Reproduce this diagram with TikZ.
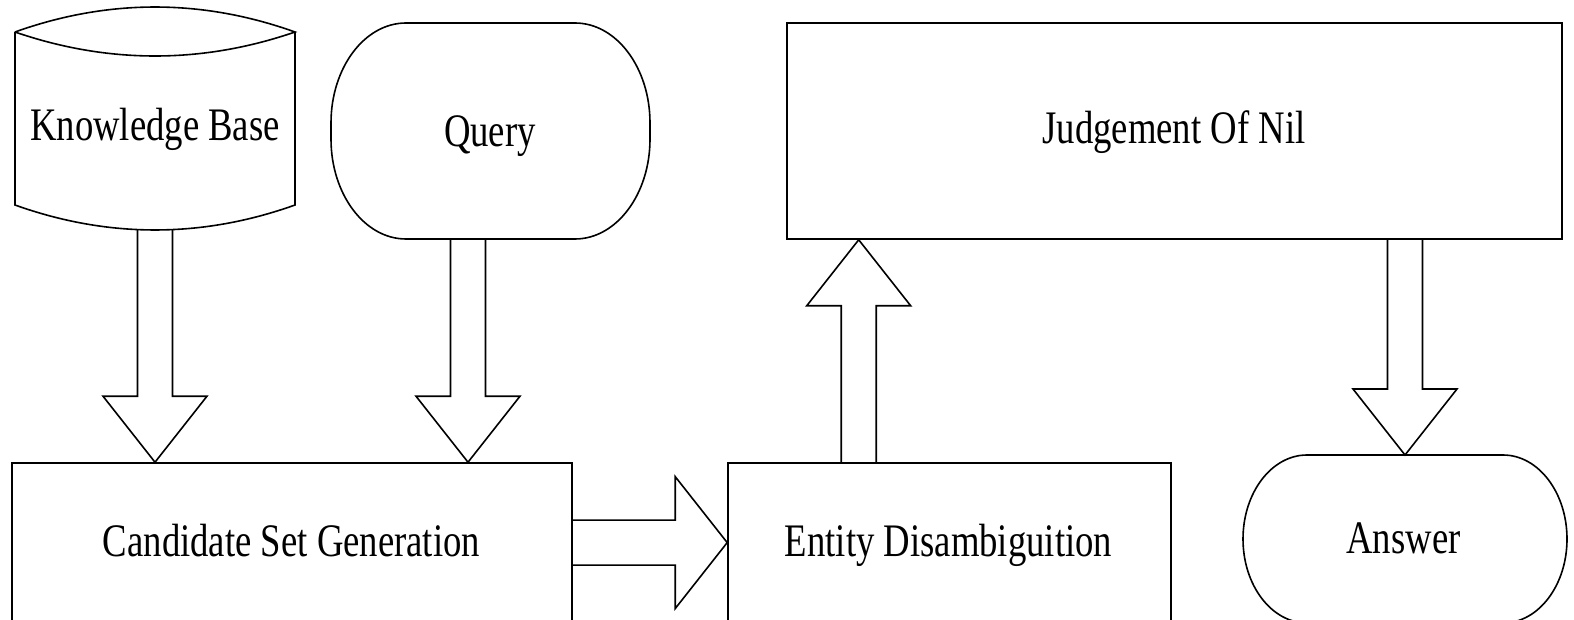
\documentclass[tikz,border=0pt]{standalone}
\usepackage{fontspec}
\setmainfont{Liberation Serif}
\usepackage{graphicx}
\usetikzlibrary{calc}
\tikzset{
  shapeline/.style={draw=black, line width=0.8pt},
  boxnode/.style={shapeline, rectangle, inner sep=0pt},
  labeltext/.style={anchor=base, inner sep=0pt, font=\fontsize{18.35}{22}\selectfont},
  fat/.style={draw=black, line width=0.8pt, line join=miter},
}
\newcommand{\vtext}[1]{\scalebox{1}[1.27]{#1}}
\newcommand{\fatdown}[2]{\draw[fat] let \p1=(#1), \p2=(#2) in
  (\x1-8.75pt,\y1) -- (\x1-8.75pt,\y2+33pt) -- (\x1-26pt,\y2+33pt) -- (\x1,\y2)
  -- (\x1+26pt,\y2+33pt) -- (\x1+8.75pt,\y2+33pt) -- (\x1+8.75pt,\y1);}
\newcommand{\fatup}[2]{\draw[fat] let \p1=(#1), \p2=(#2) in
  (\x1-8.75pt,\y1) -- (\x1-8.75pt,\y2-33pt) -- (\x1-26pt,\y2-33pt) -- (\x1,\y2)
  -- (\x1+26pt,\y2-33pt) -- (\x1+8.75pt,\y2-33pt) -- (\x1+8.75pt,\y1);}
\newcommand{\fatright}[2]{\draw[fat] let \p1=(#1), \p2=(#2) in
  (\x1,\y1+11.25pt) -- (\x2-26pt,\y1+11.25pt) -- (\x2-26pt,\y1+33pt) -- (\x2,\y2)
  -- (\x2-26pt,\y1-33pt) -- (\x2-26pt,\y1-11.25pt) -- (\x1,\y1-11.25pt);}
\begin{document}
\begin{tikzpicture}[x=0.5pt, y=-0.5pt]
\useasboundingbox (0,0) rectangle (1574,620);
\clip (0,0) rectangle (1574,620);
\fill[white] (0,0) rectangle (1574,620);

% Knowledge base (stored data / cylinder)
\draw[shapeline] (15,32) -- (15,205) .. controls (108,238.3) and (202,238.3) .. (295,205) -- (295,32);
\draw[shapeline] (15,32) .. controls (108,-1.3) and (202,-1.3) .. (295,32)
                          .. controls (202,64) and (108,64) .. (15,32);
\node[labeltext] (kb) at (155,140.5) {\vtext{Knowledge Base}};
\coordinate (kbB) at (155,230);

% Query (rounded terminal)
\draw[shapeline] (406,23) -- (575,23) arc[start angle=90,end angle=0,x radius=37.5pt,y radius=50pt]
  -- (650,139) arc[start angle=0,end angle=-90,x radius=37.5pt,y radius=50pt]
  -- (406,239) arc[start angle=270,end angle=180,x radius=37.5pt,y radius=50pt]
  -- (331,123) arc[start angle=180,end angle=90,x radius=37.5pt,y radius=50pt] -- cycle;
\node[labeltext] (query) at (490,147) {\vtext{Query}};
\coordinate (qB) at (468,239);

% Judgement of Nil
\node[boxnode, minimum width=387.5pt, minimum height=108pt] (judg) at (1174.5,131) {};
\node[labeltext] (judgtext) at (1174,144) {\vtext{Judgement Of Nil}};

% Candidate set generation
\node[boxnode, minimum width=280pt, minimum height=88.5pt] (cand) at (292,551.5) {};
\node[labeltext] (candtext) at (291.5,556) {\vtext{Candidate Set Generation}};

% Entity disambiguition
\node[boxnode, minimum width=221.5pt, minimum height=88.5pt] (ent) at (949.5,551.5) {};
\node[labeltext] (enttext) at (948.5,556) {\vtext{Entity Disambiguition}};
\coordinate (eT) at (858.7,463);

% Answer (rounded terminal)
\draw[shapeline] (1307,455) -- (1503,455) arc[start angle=90,end angle=0,x radius=32pt,y radius=42pt]
  arc[start angle=0,end angle=-90,x radius=32pt,y radius=42pt]
  -- (1307,623) arc[start angle=270,end angle=180,x radius=32pt,y radius=42pt]
  arc[start angle=180,end angle=90,x radius=32pt,y radius=42pt] -- cycle;
\node[labeltext] (ans) at (1403.5,553) {\vtext{Answer}};
\coordinate (ansT) at (1405,455);
\coordinate (hmid) at (650,542.6);

% block arrows
\fatdown{kbB}{kbB |- cand.north}
\fatdown{qB}{qB |- cand.north}
\fatright{cand.east |- hmid}{ent.west |- hmid}
\fatup{eT}{eT |- judg.south}
\fatdown{ansT |- judg.south}{ansT}
\end{tikzpicture}
\end{document}
